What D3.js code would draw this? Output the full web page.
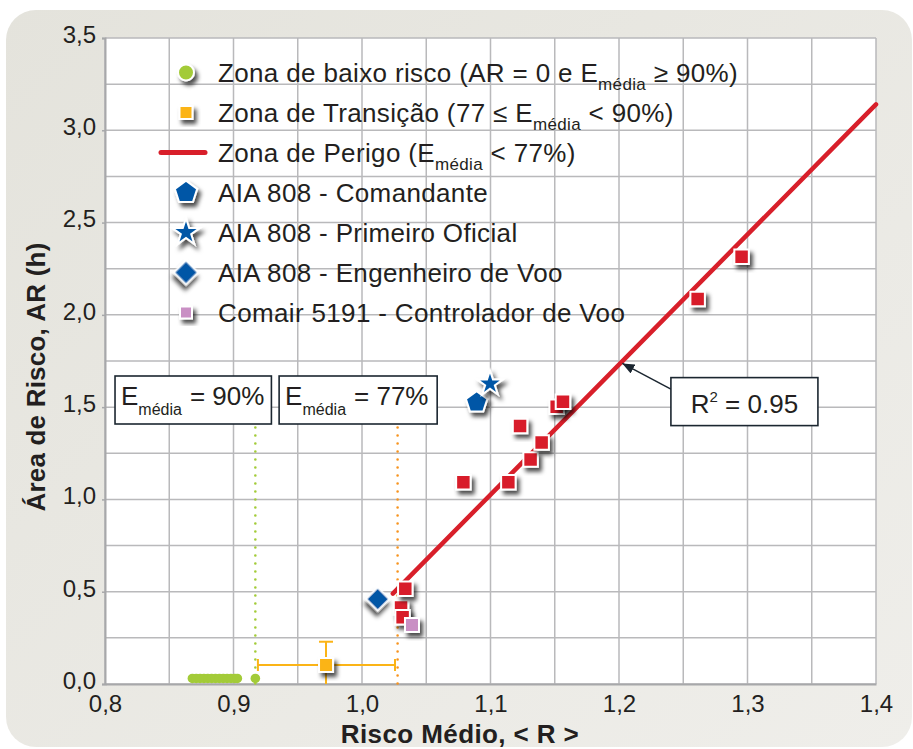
<!DOCTYPE html>
<html><head><meta charset="utf-8">
<script src="https://cdn.jsdelivr.net/npm/d3@7"></script>
<style>
html,body{margin:0;padding:0;background:#fff;}
text{font-family:"Liberation Sans",Arial,sans-serif;fill:#231f20;}
</style></head>
<body>
<svg id="c" width="913" height="749"></svg>
<script>
// ---------- data ----------
const xTicks = [0.8, 0.9, 1.0, 1.1, 1.2, 1.3, 1.4];
const yTicks = [0.0, 0.5, 1.0, 1.5, 2.0, 2.5, 3.0, 3.5];
const xGrid = [0.8, 0.85, 0.9, 0.95, 1.0, 1.05, 1.1, 1.15, 1.2, 1.25, 1.3, 1.35, 1.4];
const yGrid = [0, 0.25, 0.5, 0.75, 1.0, 1.25, 1.5, 1.75, 2.0, 2.25, 2.5, 2.75, 3.0, 3.25, 3.5];

const lowRiskX = [0.868, 0.871, 0.874, 0.877, 0.880, 0.883, 0.886, 0.889, 0.892, 0.895, 0.898, 0.901, 0.903, 0.917];
const lowRiskY = [0.03, 0.03, 0.03, 0.03, 0.03, 0.03, 0.03, 0.03, 0.03, 0.03, 0.03, 0.03, 0.03, 0.03];

const transX = [0.972];
const transY = [0.103];
const transXErr = [[0.919, 1.0257]];
const transYErr = [[0.0, 0.229]];

const dangerX = [1.0304, 1.0316, 1.0337, 1.0789, 1.1139, 1.1312, 1.1398, 1.1230, 1.1515, 1.1564, 1.2612, 1.2954];
const dangerY = [0.415, 0.361, 0.516, 1.093, 1.093, 1.217, 1.309, 1.398, 1.502, 1.529, 2.086, 2.315];

const fitX = [1.024, 1.4];
const fitY = [0.49, 3.14];

const cmdX = [1.0892], cmdY = [1.525];      // AIA 808 - Comandante
const foX = [1.0996], foY = [1.627];        // AIA 808 - Primeiro Oficial
const engX = [1.0122], engY = [0.460];      // AIA 808 - Engenheiro de Voo
const ctrlX = [1.0389], ctrlY = [0.320];    // Comair 5191 - Controlador de Voo

const thresholds = [0.917, 1.0277];         // E_média = 90%, 77%
const thresholdTop = 1.39;
const r2Label = "0.95";

// ---------- layout ----------
const svg = d3.select("#c");
const L = 105, R = 876, T = 38, B = 684;
const x = d3.scaleLinear().domain([0.8, 1.4]).range([L, R]);
const y = d3.scaleLinear().domain([0, 3.5]).range([B, T]);
const fmt = v => d3.format(".1f")(v).replace(".", ",");

const C = {red:"#d81f2a", blue:"#0057a6", green:"#a3cb38", orange:"#fbb417", dotOrange:"#f7931e", pink:"#c98fc4", grid:"#b9b9bb"};

const defs = svg.append("defs");
const g0 = defs.append("linearGradient").attr("id","bg").attr("x1","0").attr("y1","0").attr("x2","1").attr("y2","1");
g0.append("stop").attr("offset","0").attr("stop-color","#e4e3dc");
g0.append("stop").attr("offset","1").attr("stop-color","#efeeea");
const f = defs.append("filter").attr("id","sh").attr("x","-60%").attr("y","-60%").attr("width","220%").attr("height","220%");
f.append("feDropShadow").attr("dx",3).attr("dy",4).attr("stdDeviation",2.2).attr("flood-color","#000").attr("flood-opacity",0.7);
defs.append("marker").attr("id","arr").attr("viewBox","0 0 12 10").attr("refX",12).attr("refY",5)
  .attr("markerWidth",12).attr("markerHeight",10).attr("markerUnits","userSpaceOnUse").attr("orient","auto")
  .append("path").attr("d","M0,0L12,5L0,10Z").attr("fill","#1b2630");

svg.append("rect").attr("x",6).attr("y",10).attr("width",906).attr("height",737).attr("rx",30).attr("fill","url(#bg)");
svg.append("rect").attr("x",L).attr("y",T).attr("width",R-L).attr("height",B-T).attr("fill","#fff");

// grid
svg.append("g").selectAll("line").data(xGrid).join("line")
  .attr("x1",d=>x(d)).attr("x2",d=>x(d)).attr("y1",T).attr("y2",B)
  .attr("stroke",C.grid).attr("stroke-width",1.5);
svg.append("g").selectAll("line").data(yGrid).join("line")
  .attr("y1",d=>y(d)).attr("y2",d=>y(d)).attr("x1",L).attr("x2",R)
  .attr("stroke",C.grid).attr("stroke-width",1.5);

// axes
const xAxis = svg.append("g").attr("transform",`translate(0,${B})`)
  .call(d3.axisBottom(x).tickValues(xTicks).tickFormat(fmt).tickSize(0).tickPadding(10));
xAxis.select(".domain").attr("stroke","#a7a8aa").attr("stroke-width",2);
xAxis.selectAll("text").attr("font-size",24).attr("fill","#231f20").attr("font-family","Liberation Sans, Arial, sans-serif")
  .attr("dy","0.75em");
const yAxis = svg.append("g").attr("transform",`translate(${L},0)`)
  .call(d3.axisLeft(y).tickValues(yTicks).tickFormat(fmt).tickSize(3).tickPadding(6));
yAxis.select(".domain").attr("stroke","#a7a8aa").attr("stroke-width",2);
yAxis.selectAll(".tick line").attr("stroke","#a7a8aa").attr("stroke-width",1.5);
yAxis.selectAll("text").attr("font-size",24).attr("fill","#231f20").attr("font-family","Liberation Sans, Arial, sans-serif")
  .attr("dy","0.18em");

svg.append("text").attr("x",460).attr("y",743).attr("text-anchor","middle")
  .attr("font-size",26).attr("letter-spacing",0.4).attr("font-weight","bold").text("Risco Médio, < R >");
svg.append("text").attr("transform","translate(45,377) rotate(-90)").attr("text-anchor","middle")
  .attr("font-size",26).attr("letter-spacing",0.2).attr("font-weight","bold").text("Área de Risco, AR (h)");

// threshold dotted lines
svg.append("g").selectAll("line").data(thresholds).join("line")
  .attr("x1",d=>x(d)).attr("x2",d=>x(d)).attr("y1",y(thresholdTop)).attr("y2",B)
  .attr("stroke",(d,i)=>i===0?C.green:C.dotOrange).attr("stroke-width",2.6)
  .attr("stroke-linecap","round").attr("stroke-dasharray","0 8");

// low risk points
svg.append("g").selectAll("circle").data(lowRiskX).join("circle")
  .attr("cx",d=>x(d)).attr("cy",(d,i)=>y(lowRiskY[i])).attr("r",4.8).attr("fill",C.green);

// transition with error bars
const te = svg.append("g").attr("stroke",C.orange).attr("stroke-width",2);
transX.forEach((xv,i)=>{
  const [xa,xb] = transXErr[i], [ya,yb] = transYErr[i];
  te.append("line").attr("x1",x(xa)).attr("x2",x(xb)).attr("y1",y(transY[i])).attr("y2",y(transY[i]));
  te.append("line").attr("x1",x(xa)).attr("x2",x(xa)).attr("y1",y(transY[i])-6).attr("y2",y(transY[i])+6);
  te.append("line").attr("x1",x(xb)).attr("x2",x(xb)).attr("y1",y(transY[i])-6).attr("y2",y(transY[i])+6);
  te.append("line").attr("x1",x(xv)).attr("x2",x(xv)).attr("y1",y(ya)).attr("y2",y(yb));
  te.append("line").attr("x1",x(xv)-7).attr("x2",x(xv)+7).attr("y1",y(yb)).attr("y2",y(yb));
});

// symbols
const pentagon = {draw(ctx,size){const r=Math.sqrt(size/2.3776);for(let k=0;k<5;k++){const a=-Math.PI/2+k*2*Math.PI/5;const px=r*Math.cos(a),py=r*Math.sin(a);k?ctx.lineTo(px,py):ctx.moveTo(px,py);}ctx.closePath();}};
const sq = s => d3.symbol(d3.symbolSquare, s*s)();
function marks(xs, ys, path, fill, rot){
  svg.append("g").selectAll("path").data(xs).join("path")
    .attr("transform",(d,i)=>`translate(${x(d)},${y(ys[i])}) rotate(${rot||0})`)
    .attr("d",path).attr("fill",fill).attr("stroke","#fff").attr("stroke-width",2)
    .attr("stroke-linejoin","miter").attr("filter","url(#sh)");
}

// fit line
svg.append("path").datum(fitX.map((d,i)=>[d,fitY[i]]))
  .attr("d",d3.line().x(d=>x(d[0])).y(d=>y(d[1])))
  .attr("stroke",C.red).attr("stroke-width",4.5).attr("stroke-linecap","round").attr("fill","none");

marks(transX, transY, sq(14), C.orange);
marks(dangerX, dangerY, sq(14.5), C.red);
marks(engX, engY, sq(16.5), C.blue, 45);
marks(ctrlX, ctrlY, sq(14), C.pink);
marks(cmdX, cmdY, d3.symbol(pentagon, 300)(), C.blue);
marks(foX, foY, d3.symbol(d3.symbolStar, 200)(), C.blue);

// annotation boxes
function eBox(x0, x1, val){
  const yt = 376, yb = 424;
  svg.append("rect").attr("x",x0).attr("y",yt).attr("width",x1-x0).attr("height",yb-yt)
    .attr("fill","#fff").attr("stroke","#1b2630").attr("stroke-width",1.6);
  const t = svg.append("text").attr("x",x0+6).attr("y",405).attr("font-size",26);
  t.append("tspan").text("E");
  t.append("tspan").attr("font-size",16).attr("dy",10).text("média");
  t.append("tspan").attr("dy",-10).attr("dx",8).text("= " + val);
}
eBox(x(0.8078), x(0.9295), "90%");
eBox(x(0.9355), x(1.0585), "77%");

// R2 box + arrow
const rx0 = x(1.2404), rx1 = x(1.3548), ry0 = y(1.66), ry1 = y(1.40);
svg.append("line").attr("x1",rx0).attr("y1",y(1.598)).attr("x2",x(1.2026)).attr("y2",y(1.737))
  .attr("stroke","#1b2630").attr("stroke-width",1.5).attr("marker-end","url(#arr)");
svg.append("rect").attr("x",rx0).attr("y",ry0).attr("width",rx1-rx0).attr("height",ry1-ry0)
  .attr("fill","#fff").attr("stroke","#1b2630").attr("stroke-width",1.6);
const rt = svg.append("text").attr("x",(rx0+rx1)/2).attr("y",413).attr("text-anchor","middle").attr("font-size",26);
rt.append("tspan").text("R");
rt.append("tspan").attr("font-size",15).attr("dy",-11).text("2");
rt.append("tspan").attr("dy",11).text(" = " + r2Label);

// legend
const legend = [
  {kind:"circle", color:C.green, parts:[["Zona de baixo risco (AR = 0 e E"],["média",1],[" ≥ 90%)"]]},
  {kind:"square", color:C.orange, parts:[["Zona de Transição (77 ≤ E"],["média",1],[" < 90%)"]]},
  {kind:"line", color:C.red, parts:[["Zona de Perigo (E"],["média",1],[" < 77%)"]]},
  {kind:"pentagon", color:C.blue, parts:[["AIA 808 - Comandante"]]},
  {kind:"star", color:C.blue, parts:[["AIA 808 - Primeiro Oficial"]]},
  {kind:"diamond", color:C.blue, parts:[["AIA 808 - Engenheiro de Voo"]]},
  {kind:"square", color:C.pink, parts:[["Comair 5191 - Controlador de Voo"]], s:12},
];
const lg = svg.append("g");
legend.forEach((it,i)=>{
  const cy = 72.5 + i*40, cx = 186;
  const gg = lg.append("g").attr("transform",`translate(${cx},${cy})`);
  const st = s => s.attr("fill",it.color).attr("stroke","#fff").attr("stroke-width",2).attr("filter","url(#sh)");
  if(it.kind==="circle") st(gg.append("circle").attr("r",8));
  if(it.kind==="square") st(gg.append("path").attr("d",sq(it.s||13)));
  if(it.kind==="line") gg.append("line").attr("x1",-25).attr("x2",19).attr("stroke",it.color).attr("stroke-width",5).attr("stroke-linecap","round");
  if(it.kind==="pentagon") st(gg.append("path").attr("d",d3.symbol(pentagon,330)()));
  if(it.kind==="star") st(gg.append("path").attr("d",d3.symbol(d3.symbolStar,230)()));
  if(it.kind==="diamond") st(gg.append("path").attr("d",sq(17)).attr("transform","rotate(45)"));
  const t = lg.append("text").attr("x",218).attr("y",cy+9).attr("font-size",26).attr("letter-spacing",0.35);
  let sub=false;
  it.parts.forEach(p=>{
    const ts = t.append("tspan").text(p[0]);
    if(p[1]){ts.attr("font-size",17).attr("dy",8);sub=true;}
    else if(sub){ts.attr("dy",-8);sub=false;}
  });
});
</script>
</body></html>
